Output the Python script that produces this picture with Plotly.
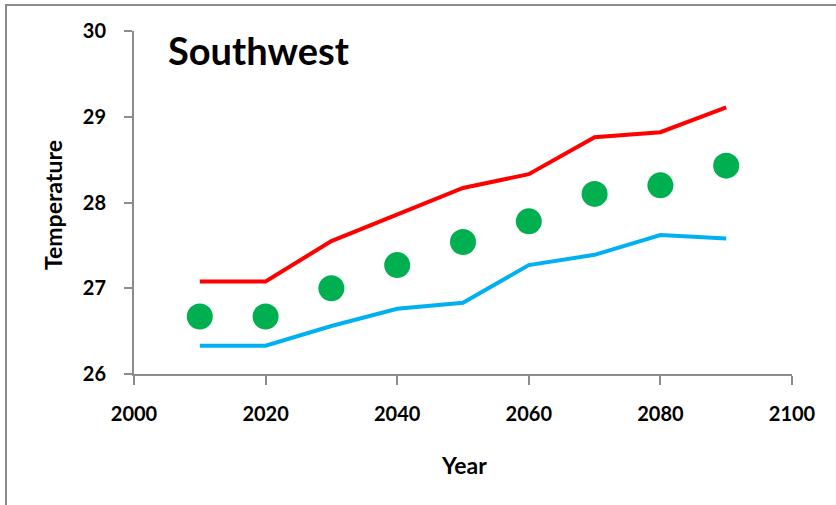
import plotly.graph_objects as go

years = [2010, 2020, 2030, 2040, 2050, 2060, 2070, 2080, 2090]
upper = [27.08, 27.08, 27.55, 27.86, 28.17, 28.33, 28.76, 28.82, 29.11]
mean = [26.67, 26.67, 27.00, 27.27, 27.54, 27.78, 28.10, 28.20, 28.43]
lower = [26.33, 26.33, 26.56, 26.76, 26.83, 27.27, 27.39, 27.62, 27.58]

x_ticks = [2000, 2020, 2040, 2060, 2080, 2100]
y_ticks = [26, 27, 28, 29, 30]

FONT = "Lato"
W, H = 836, 505
L, R, T, B = 134, 44, 31, 131

fig = go.Figure()
fig.add_trace(go.Scatter(x=years, y=upper, mode="lines",
                         line=dict(color="#ff0000", width=4), name="upper"))
fig.add_trace(go.Scatter(x=years, y=lower, mode="lines",
                         line=dict(color="#00b0f0", width=4), name="lower"))
fig.add_trace(go.Scatter(x=years, y=mean, mode="markers",
                         marker=dict(color="#00b050", size=26, line=dict(width=0)),
                         name="mean"))

pw, ph = W - L - R, H - T - B


def px(xp):
    return (xp - L) / pw


def py(yp):
    return (H - B - yp) / ph


tick_font = dict(family=FONT, size=20, color="black", weight="bold")

fig.update_layout(
    width=W, height=H,
    margin=dict(l=L, r=R, t=T, b=B),
    plot_bgcolor="white", paper_bgcolor="white",
    showlegend=False,
    font=dict(family=FONT, color="black"),
    xaxis=dict(range=[2000, 2100], tickvals=x_ticks, showgrid=False, zeroline=False,
               showline=True, linecolor="#8c8c8c", linewidth=2,
               ticks="outside", ticklen=9, tickwidth=1.5, tickcolor="#8c8c8c",
               ticklabelstandoff=12, tickfont=tick_font),
    yaxis=dict(range=[26, 30], tickvals=y_ticks, showgrid=False, zeroline=False,
               showline=True, linecolor="#8c8c8c", linewidth=2,
               ticks="outside", ticklen=8, tickwidth=1.5, tickcolor="#8c8c8c",
               ticklabelstandoff=14, tickfont=tick_font),
    annotations=[
        dict(text="<b>Southwest</b>", xref="paper", yref="paper",
             x=px(166), y=py(50), xanchor="left", yanchor="middle",
             showarrow=False, font=dict(family=FONT, size=38, color="black")),
        dict(text="<b>Year</b>", xref="paper", yref="paper",
             x=px(464), y=py(465), xanchor="center", yanchor="middle",
             showarrow=False, font=dict(family=FONT, size=23, color="black")),
        dict(text="<b>Temperature</b>", xref="paper", yref="paper",
             x=px(53), y=py(205), xanchor="center", yanchor="middle",
             textangle=-90, showarrow=False,
             font=dict(family=FONT, size=23, color="black")),
    ],
    shapes=[
        dict(type="rect", xref="paper", yref="paper",
             x0=px(6), y0=py(520), x1=px(850), y1=py(5),
             line=dict(color="#8c8c8c", width=2), fillcolor="rgba(0,0,0,0)",
             layer="below"),
    ],
)

fig.write_html("out.html")
